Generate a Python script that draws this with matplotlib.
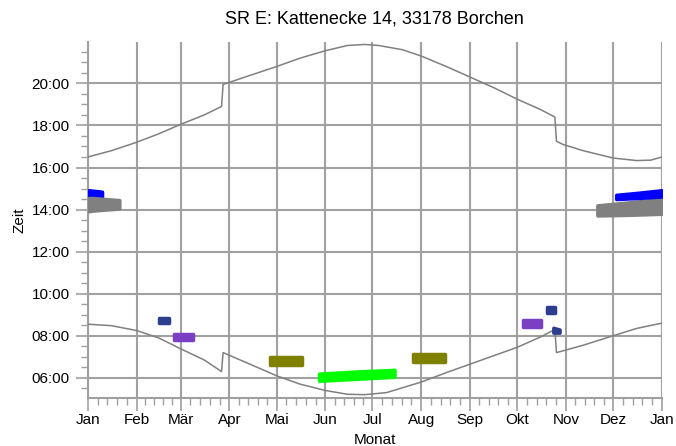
import matplotlib
matplotlib.use('Agg')
import matplotlib.pyplot as plt
from matplotlib.ticker import FixedLocator, MultipleLocator, FuncFormatter
import numpy as np

plt.rcParams['font.family'] = ['Liberation Sans', 'DejaVu Sans']

# month starts (day of year) and labels
month_days = [0, 31, 59, 90, 120, 151, 181, 212, 243, 273, 304, 334, 365]
month_names = ['Jan', 'Feb', 'Mär', 'Apr', 'Mai', 'Jun', 'Jul', 'Aug',
               'Sep', 'Okt', 'Nov', 'Dez', 'Jan']

# sunrise / sunset (hours, local time incl. DST jumps)
rise_days = [0, 15, 31, 45, 59, 74, 85, 86, 100, 120, 135, 151, 165, 176,
             190, 212, 228, 243, 258, 273, 288, 297, 298, 302, 315, 334,
             349, 365]
rise_time = [8.55, 8.48, 8.25, 7.9, 7.38, 6.85, 6.3, 7.2, 6.75, 6.1, 5.7,
             5.4, 5.22, 5.2, 5.3, 5.8, 6.25, 6.65, 7.05, 7.45, 7.95, 8.3,
             7.2, 7.28, 7.55, 8.0, 8.35, 8.6]

set_days = [0, 15, 31, 45, 59, 74, 85, 86, 100, 120, 135, 151, 165, 176,
            185, 200, 212, 228, 243, 258, 273, 288, 297, 298, 302, 315,
            334, 349, 358, 365]
set_time = [16.5, 16.8, 17.2, 17.6, 18.05, 18.5, 18.9, 19.95, 20.3, 20.8,
            21.2, 21.55, 21.8, 21.85, 21.8, 21.6, 21.3, 20.8, 20.3, 19.8,
            19.25, 18.75, 18.4, 17.25, 17.1, 16.8, 16.45, 16.33, 16.35, 16.5]

# shadow periods: (days, lower time, upper time, colour)
blue_jan = ([0.5, 9], [14.62, 14.62], [14.92, 14.85], '#0000ff')
gray_jan = ([0.5, 3, 20], [13.92, 13.95, 14.05], [14.55, 14.55, 14.45], '#808080')
navy_feb = ([45, 51.5], [8.62, 8.62], [8.86, 8.86], '#2e3e8f')
purple_mar = ([55, 67], [7.8, 7.8], [8.1, 8.1], '#7b3fc6')
olive_may = ([116, 136], [6.62, 6.62], [6.98, 6.98], '#808000')
green_jun = ([147, 170, 195], [5.86, 5.95, 6.05], [6.2, 6.3, 6.38], '#00ff00')
olive_aug = ([207, 227], [6.76, 6.76], [7.15, 7.15], '#808000')
purple_oct = ([277, 288], [8.4, 8.4], [8.75, 8.75], '#7b3fc6')
navy_oct = ([292, 297], [9.1, 9.1], [9.38, 9.38], '#2e3e8f')
navy_oct2 = ([296, 300], [8.15, 8.15], [8.38, 8.3], '#2e3e8f')
gray_dec = ([324, 345, 365], [13.72, 13.75, 13.8], [14.2, 14.35, 14.5], '#808080')
blue_dec = ([336, 350, 365], [14.5, 14.55, 14.62], [14.7, 14.8, 14.92], '#0000ff')

blobs = [blue_jan, gray_jan, navy_feb, purple_mar, olive_may, green_jun,
         olive_aug, purple_oct, navy_oct, navy_oct2, gray_dec, blue_dec]

fig = plt.figure(figsize=(6.76, 4.46), dpi=100)
ax = fig.add_axes([0.130, 0.108, 0.849, 0.798])

grid_col = '#a0a0a0'
ax.plot(rise_days, rise_time, color='#808080', lw=1.1, zorder=3)
ax.plot(set_days, set_time, color='#808080', lw=1.1, zorder=3)

for d, lo, hi, c in blobs:
    ax.fill_between(d, lo, hi, color=c, lw=2.5, edgecolor=c,
                    joinstyle='round', zorder=4)

ax.set_xlim(0, 365)
ax.set_ylim(5.05, 21.97)

ax.xaxis.set_major_locator(FixedLocator(month_days))
ax.set_xticklabels(month_names)
minor_x = []
for a, b in zip(month_days[:-1], month_days[1:]):
    minor_x += list(np.linspace(a, b, 6)[1:-1])
ax.xaxis.set_minor_locator(FixedLocator(minor_x))

ax.yaxis.set_major_locator(MultipleLocator(2))
ax.yaxis.set_minor_locator(MultipleLocator(0.5))
ax.yaxis.set_major_formatter(FuncFormatter(lambda v, p: '%02d:00' % int(round(v))))

ax.grid(True, which='major', color=grid_col, lw=1.5)
for s in ['top', 'right']:
    ax.spines[s].set_visible(False)
for s in ['left', 'bottom']:
    ax.spines[s].set_color(grid_col)
    ax.spines[s].set_linewidth(1.5)

ax.tick_params(which='major', length=9, width=1.2, color=grid_col,
               labelsize=11, pad=4)
ax.tick_params(axis='x', which='major', pad=2)
ax.tick_params(which='minor', length=5, width=1.0, color=grid_col)

ax.set_title('SR E: Kattenecke 14, 33178 Borchen', fontsize=13, pad=13)
ax.set_xlabel('Monat', fontsize=11, labelpad=4)
ax.set_ylabel('Zeit', fontsize=11, labelpad=4)

fig.savefig('out.png', dpi=100)
